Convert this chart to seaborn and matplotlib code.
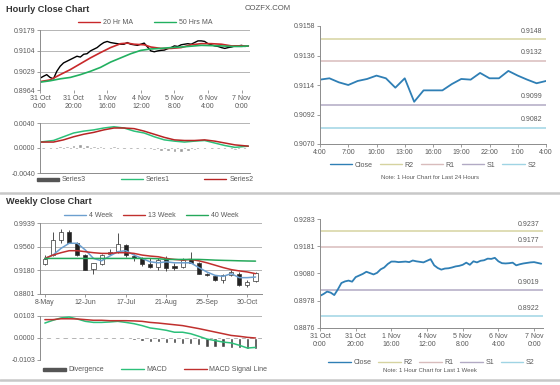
import numpy as np
import pandas as pd
import seaborn as sns
import matplotlib.pyplot as plt
from matplotlib.lines import Line2D
from matplotlib.patches import Patch

# ---------------- data ----------------
# hourly close chart (last week), index = hours since 31 Oct 0:00
hr_idx = list(range(0, 125, 2))
hr_close = [0.9006, 0.9013, 0.9019, 0.9009, 0.9004, 0.9031, 0.9049, 0.9061, 0.9067, 0.9073,
            0.9079, 0.9085, 0.9082, 0.9092, 0.9094, 0.9104, 0.9110, 0.9116, 0.9126, 0.9134,
            0.9138, 0.9134, 0.9132, 0.9130, 0.9128, 0.9128, 0.9134, 0.9128, 0.9126, 0.9124,
            0.9128, 0.9132, 0.9118, 0.9104, 0.9101, 0.9104, 0.9106, 0.9107, 0.9112, 0.9116,
            0.9122, 0.9120, 0.9126, 0.9128, 0.9130, 0.9128, 0.9134, 0.9140, 0.9140, 0.9138,
            0.9130, 0.9126, 0.9122, 0.9120, 0.9116, 0.9113, 0.9116, 0.9118, 0.9122, 0.9122,
            0.9124, 0.9120, 0.9122]
ma20_idx = [0, 6, 12, 18, 24, 30, 36, 42, 48, 52, 56, 62, 66, 72, 78, 84, 90, 96, 102, 108, 114, 120, 124]
ma20 = [0.8994, 0.9000, 0.9019, 0.9037, 0.9058, 0.9079, 0.9098, 0.9116, 0.9130, 0.9132, 0.9128, 0.9126,
        0.9118, 0.9113, 0.9113, 0.9116, 0.9126, 0.9130, 0.9130, 0.9128, 0.9122, 0.9122, 0.9122]
ma50_idx = [0, 6, 12, 18, 24, 30, 36, 42, 48, 54, 60, 66, 72, 78, 84, 90, 96, 102, 108, 114, 120, 124]
ma50 = [0.8992, 0.8997, 0.9004, 0.9009, 0.9019, 0.9031, 0.9045, 0.9064, 0.9079, 0.9094, 0.9106, 0.9111,
        0.9113, 0.9116, 0.9118, 0.9121, 0.9124, 0.9123, 0.9122, 0.9120, 0.9120, 0.9122]
hr_ticks = ["31 Oct\n0:00", "31 Oct\n20:00", "1 Nov\n16:00", "4 Nov\n12:00", "5 Nov\n8:00", "6 Nov\n4:00", "7 Nov\n0:00"]

# hourly MACD
hm_idx = [0, 8, 14, 20, 26, 32, 38, 44, 50, 56, 62, 68, 74, 80, 86, 92, 98, 104, 110, 116, 124]
series1 = [0.00095, 0.0012, 0.0018, 0.0024, 0.0027, 0.0029, 0.0032, 0.0034, 0.0032, 0.0027, 0.0024,
           0.0018, 0.0013, 0.0011, 0.00095, 0.0011, 0.0012, 0.0008, 0.0004, 0.0001, 0.0003]
series2 = [0.00095, 0.00095, 0.0013, 0.0018, 0.0022, 0.0025, 0.0029, 0.0032, 0.0032, 0.0031, 0.0027,
           0.0022, 0.0017, 0.0013, 0.0012, 0.0012, 0.0013, 0.0011, 0.0008, 0.0005, 0.0003]
s3_idx = list(range(0, 125, 4))
series3 = [0.0, 0.0001, 0.0002, 0.0003, 0.0004, 0.0005, 0.0006, 0.0005, 0.0004, 0.0003, 0.0002,
           0.0003, 0.0002, 0.0001, 0.0, -0.0001, -0.0002, -0.0003, -0.0004, -0.0005, -0.0007,
           -0.0006, -0.0005, -0.0003, -0.0002, -0.0001, 0.0, -0.0001, -0.0002, -0.0003, -0.0002, -0.0001]

# last 24 hours
d_idx = list(range(25))
d_close = [0.9118, 0.9119, 0.9116, 0.9114, 0.9117, 0.91185, 0.9121, 0.9119, 0.9112, 0.9119, 0.91015,
           0.9110, 0.9110, 0.9110, 0.91147, 0.91185, 0.9118, 0.9123, 0.9119, 0.9119, 0.91245,
           0.9121, 0.9118, 0.91153, 0.9117]
d_ticks = ["4:00", "7:00", "10:00", "13:00", "16:00", "19:00", "22:00", "1:00", "4:00"]
d_levels = [0.9148, 0.9132, 0.9099, 0.9082]

# last week, hourly
w_idx = list(range(0, 125, 2))
w_close = [0.8996, 0.9003, 0.9012, 0.9008, 0.8999, 0.9020, 0.9044, 0.9050, 0.9053, 0.9049,
           0.9066, 0.9072, 0.9078, 0.9086, 0.9081, 0.9076, 0.9082, 0.9095, 0.9102, 0.9115,
           0.9124, 0.9124, 0.9122, 0.9123, 0.9124, 0.9122, 0.9128, 0.9125, 0.9123, 0.9121,
           0.9127, 0.9133, 0.9110, 0.9100, 0.9094, 0.9098, 0.9099, 0.9102, 0.9106, 0.9108,
           0.9112, 0.9120, 0.9112, 0.9125, 0.9121, 0.9127, 0.9129, 0.9135, 0.9134, 0.9138,
           0.9125, 0.9118, 0.9117, 0.9118, 0.9120, 0.9110, 0.9114, 0.9117, 0.9119, 0.9121,
           0.9122, 0.9119, 0.9116]
w_levels = [0.9237, 0.9177, 0.9019, 0.8922]

# weekly candles
wk_open = [0.9279, 0.9425, 0.9668, 0.9788, 0.9625, 0.9425, 0.9209, 0.9279, 0.9441, 0.9479, 0.9587,
           0.9409, 0.9371, 0.9279, 0.9236, 0.9371, 0.9247, 0.9236, 0.9355, 0.9301, 0.9127, 0.9084,
           0.9030, 0.9100, 0.9127, 0.8938, 0.9008]
wk_close = [0.9355, 0.9668, 0.9788, 0.9625, 0.9425, 0.9192, 0.9290, 0.9425, 0.9479, 0.9603, 0.9425,
            0.9371, 0.9279, 0.9236, 0.9344, 0.9225, 0.9225, 0.9344, 0.9301, 0.9127, 0.9100, 0.9030,
            0.9100, 0.9154, 0.8938, 0.8992, 0.9138]
wk_high = [0.9425, 0.9788, 0.9842, 0.9820, 0.9641, 0.9436, 0.9301, 0.9441, 0.9517, 0.9777, 0.9603,
           0.9441, 0.9398, 0.9371, 0.9371, 0.9409, 0.9290, 0.9371, 0.9479, 0.9317, 0.9138, 0.9100,
           0.9127, 0.9181, 0.9154, 0.9030, 0.9154]
wk_low = [0.9263, 0.9409, 0.9614, 0.9614, 0.9409, 0.9181, 0.9127, 0.9263, 0.9425, 0.9452, 0.9398,
          0.9333, 0.9247, 0.9225, 0.9192, 0.9171, 0.9192, 0.9225, 0.9290, 0.9117, 0.9084, 0.9008,
          0.8976, 0.9084, 0.8922, 0.8911, 0.8992]
wk4 = [0.9371, 0.9425, 0.9533, 0.9614, 0.9614, 0.9506, 0.9371, 0.9333, 0.9409, 0.9479, 0.9495,
       0.9425, 0.9371, 0.9317, 0.9301, 0.9317, 0.9301, 0.9301, 0.9301, 0.9225, 0.9154, 0.9100,
       0.9084, 0.9127, 0.9063, 0.9063, 0.9073]
wk13 = [0.9371, 0.9425, 0.9463, 0.9495, 0.9495, 0.9479, 0.9463, 0.9452, 0.9452, 0.9463, 0.9463,
        0.9452, 0.9425, 0.9409, 0.9398, 0.9371, 0.9355, 0.9344, 0.9355, 0.9333, 0.9301, 0.9263,
        0.9225, 0.9192, 0.9171, 0.9154, 0.9127]
wk40 = [0.9371, 0.9371, 0.9371, 0.9371, 0.9371, 0.9371, 0.9371, 0.9371, 0.9371, 0.9371, 0.9371,
        0.9371, 0.9371, 0.9371, 0.9366, 0.9355, 0.9355, 0.9355, 0.9355, 0.9355, 0.9350, 0.9344,
        0.9340, 0.9337, 0.9333, 0.9330, 0.9328]
wk_ticks = ["8-May", "12-Jun", "17-Jul", "21-Aug", "25-Sep", "30-Oct"]

# weekly MACD
macd = [0.0070, 0.0083, 0.0094, 0.0098, 0.0089, 0.0078, 0.0073, 0.0073, 0.0075, 0.0078, 0.0073,
        0.0067, 0.0058, 0.0047, 0.0042, 0.0036, 0.0027, 0.0027, 0.0020, 0.0008, -0.0005, -0.0012,
        -0.0019, -0.0023, -0.0034, -0.0047, -0.0044]
signal = [0.0086, 0.0086, 0.0090, 0.0090, 0.0089, 0.0086, 0.0083, 0.0083, 0.0081, 0.0081, 0.0081,
          0.0080, 0.0078, 0.0073, 0.0070, 0.0066, 0.0062, 0.0058, 0.0051, 0.0044, 0.0036, 0.0028,
          0.0020, 0.0012, 0.0008, 0.0003, 0.0]
diverg = [-0.0005, -0.0003, 0.0002, 0.0004, -0.0001, -0.0004, -0.0006, -0.0006, -0.0005, -0.0004,
          -0.0006, -0.0009, -0.0014, -0.0018, -0.0020, -0.0023, -0.0025, -0.0027, -0.0030, -0.0035,
          -0.0040, -0.0042, -0.0044, -0.0046, -0.0048, -0.0050, -0.0050]

# ---------------- style ----------------
sns.set_style("white")
plt.rcParams['font.family'] = ['Liberation Sans', 'DejaVu Sans']
TXT = '#595959'
SPINE = '#8c8c8c'
GRID = '#b4b4b4'
FS = 5

fig = plt.figure(figsize=(5.6, 3.85), dpi=100)


def px_axes(x0, y0, x1, y1):
    return fig.add_axes([x0 / 560, 1 - y1 / 385, (x1 - x0) / 560, (y1 - y0) / 385])


def base(ax, grid=True):
    for s in ['top', 'right']:
        ax.spines[s].set_visible(False)
    for s in ['left', 'bottom']:
        ax.spines[s].set_color(SPINE)
        ax.spines[s].set_linewidth(0.7)
    ax.tick_params(axis='both', labelsize=FS, colors=SPINE, labelcolor=TXT, length=2, width=0.6, pad=1.5,
                   direction='out', left=True, bottom=True)
    if grid:
        ax.yaxis.grid(True, color=GRID, lw=0.7)
    ax.set_xlabel('')
    ax.set_ylabel('')


def leg(ax, handles, labels, y, cs=2.0, x=0.5):
    ax.legend(handles, labels, loc='center', bbox_to_anchor=(x, y), ncol=len(labels), frameon=False,
              fontsize=FS, handlelength=3.2, columnspacing=cs, handletextpad=0.4, labelcolor=TXT)


# titles
fig.text(6 / 560, 1 - 9 / 385, "Hourly Close Chart", fontsize=6.6, fontweight='bold', color='#333333', va='center')
fig.text(245 / 560, 1 - 9 / 385, "COZFX.COM", fontsize=5.6, color='#555555', va='center')
fig.text(6 / 560, 1 - 202 / 385, "Weekly Close Chart", fontsize=6.6, fontweight='bold', color='#333333', va='center')
fig.add_artist(Line2D([0, 1], [1 - 193 / 385] * 2, color='#c8c8c8', lw=1.8))
fig.add_artist(Line2D([0, 1], [1 - 380 / 385] * 2, color='#c8c8c8', lw=1.8))

# ---- hourly close ----
ax1 = px_axes(40, 30, 250, 90)
sns.lineplot(x=hr_idx, y=hr_close, ax=ax1, color='black', lw=1.0)
sns.lineplot(x=ma20_idx, y=ma20, ax=ax1, color='#c8282a', lw=1.2)
sns.lineplot(x=ma50_idx, y=ma50, ax=ax1, color='#22b060', lw=1.2)
ax1.set_xlim(0, 125)
ax1.set_ylim(0.8964, 0.9179)
ax1.set_yticks([0.8964, 0.9029, 0.9104, 0.9179])
ax1.set_yticklabels(["0.8964", "0.9029", "0.9104", "0.9179"])
ax1.set_xticks(list(range(0, 121, 20)))
ax1.set_xticklabels(hr_ticks, linespacing=1.3)
base(ax1)
ax1.spines['bottom'].set_visible(False)
leg(ax1, [Line2D([], [], color='#c8282a', lw=1), Line2D([], [], color='#22b060', lw=1)],
    ["20 Hr MA", "50 Hrs MA"], 1.12, cs=3)

# ---- hourly MACD ----
ax2 = px_axes(40, 123, 250, 173)
ax2.bar(s3_idx, series3, width=2.2, color='#9a9a9a', zorder=2)
sns.lineplot(x=hm_idx, y=series1, ax=ax2, color='#2cc07a', lw=1.1)
sns.lineplot(x=hm_idx, y=series2, ax=ax2, color='#b82424', lw=1.1)
ax2.set_xlim(0, 125)
ax2.set_ylim(-0.004, 0.004)
ax2.set_yticks([-0.004, 0.0, 0.004])
ax2.set_yticklabels(["-0.0040", "0.0000", "0.0040"])
ax2.set_xticks([])
base(ax2)
ax2.axhline(0, color='#c0c0c0', lw=0.6, zorder=1)
leg(ax2, [Patch(color='#555555'), Line2D([], [], color='#2cc07a', lw=1), Line2D([], [], color='#b82424', lw=1)],
    ["Series3", "Series1", "Series2"], -0.13, cs=5)
for h in ax2.get_legend().legend_handles[:1]:
    h.set_height(2.5)

# ---- last 24 hours ----
lvl_cols = ['#d6d3a0', '#d8bcbc', '#b2aac4', '#9fd4e4']
ax3 = px_axes(320, 26, 546, 144)
for v, c in zip(d_levels, lvl_cols):
    ax3.axhline(v, color=c, lw=1.1)
    ax3.text(0.985, v + 0.00035, f"{v:.4f}", transform=ax3.get_yaxis_transform(), ha='right', va='bottom',
             fontsize=FS, color=TXT)
sns.lineplot(x=d_idx, y=d_close, ax=ax3, color='#2f7fb5', lw=1.3)
ax3.set_xlim(0, 24)
ax3.set_ylim(0.9070, 0.9158)
ax3.set_yticks([0.9070, 0.9092, 0.9114, 0.9136, 0.9158])
ax3.set_yticklabels(["0.9070", "0.9092", "0.9114", "0.9136", "0.9158"])
ax3.set_xticks(list(range(0, 25, 3)))
ax3.set_xticklabels(d_ticks)
base(ax3, grid=False)
lh = [Line2D([], [], color='#2f7fb5', lw=1)] + [Line2D([], [], color=c, lw=1) for c in lvl_cols]
leg(ax3, lh, ["Close", "R2", "R1", "S1", "S2"], -0.18, cs=1.0)
fig.text(430 / 560, 1 - 178 / 385, "Note: 1 Hour Chart for Last 24 Hours", fontsize=4.3, color=TXT,
         ha='center', va='center')

# ---- weekly candles ----
ax4 = px_axes(40, 223, 262, 294)
wx = np.arange(len(wk_open))
ax4.vlines(wx, wk_low, wk_high, color='#333333', lw=0.6, zorder=3)
up = [c >= o for o, c in zip(wk_open, wk_close)]
bot = [min(o, c) for o, c in zip(wk_open, wk_close)]
hgt = [abs(c - o) for o, c in zip(wk_open, wk_close)]
ax4.bar(wx, hgt, bottom=bot, width=0.5, color=['white' if u else '#222222' for u in up],
        edgecolor='#333333', lw=0.5, zorder=4)
sns.lineplot(x=wx, y=wk4, ax=ax4, color='#6c9fcf', lw=1.1, zorder=5)
sns.lineplot(x=wx, y=wk13, ax=ax4, color='#c0302e', lw=1.1, zorder=5)
sns.lineplot(x=wx, y=wk40, ax=ax4, color='#24a85a', lw=1.1, zorder=5)
ax4.set_xlim(-0.6, 26.8)
ax4.set_ylim(0.8801, 0.9939)
ax4.set_yticks([0.8801, 0.9180, 0.9560, 0.9939])
ax4.set_yticklabels(["0.8801", "0.9180", "0.9560", "0.9939"])
ax4.set_xticks([0, 5, 10, 15, 20, 25])
ax4.set_xticklabels(wk_ticks)
base(ax4)
leg(ax4, [Line2D([], [], color='#6c9fcf', lw=1), Line2D([], [], color='#c0302e', lw=1),
          Line2D([], [], color='#24a85a', lw=1)], ["4 Week", "13 Week", "40 Week"], 1.1, cs=1.5)

# ---- weekly MACD ----
ax5 = px_axes(40, 316, 262, 360)
ax5.bar(wx, diverg, width=0.4, color='#444444', zorder=2)
sns.lineplot(x=wx, y=macd, ax=ax5, color='#2cc07a', lw=1.1)
sns.lineplot(x=wx, y=signal, ax=ax5, color='#c0302e', lw=1.1)
ax5.set_xlim(-0.6, 26.8)
ax5.set_ylim(-0.0103, 0.0103)
ax5.set_yticks([-0.0103, 0.0, 0.0103])
ax5.set_yticklabels(["-0.0103", "0.0000", "0.0103"])
ax5.set_xticks([])
base(ax5)
ax5.spines['bottom'].set_visible(False)
leg(ax5, [Patch(color='#555555'), Line2D([], [], color='#2cc07a', lw=1), Line2D([], [], color='#c0302e', lw=1)],
    ["Divergence", "MACD", "MACD Signal Line"], -0.22, cs=2.5, x=0.52)
ax5.get_legend().legend_handles[0].set_height(2.5)

# ---- last week hourly ----
lvl_cols2 = ['#d6d3a0', '#d8bcbc', '#b2aac4', '#9fd4e4']
ax6 = px_axes(320, 219, 543, 328)
for v, c in zip(w_levels, lvl_cols2):
    ax6.axhline(v, color=c, lw=1.1)
    ax6.text(0.985, v + 0.0014, f"{v:.4f}", transform=ax6.get_yaxis_transform(), ha='right', va='bottom',
             fontsize=FS, color=TXT)
sns.lineplot(x=w_idx, y=w_close, ax=ax6, color='#2f7fb5', lw=1.3)
ax6.set_xlim(0, 125)
ax6.set_ylim(0.8876, 0.9283)
ax6.set_yticks([0.8876, 0.8978, 0.9080, 0.9181, 0.9283])
ax6.set_yticklabels(["0.8876", "0.8978", "0.9080", "0.9181", "0.9283"])
ax6.set_xticks(list(range(0, 121, 20)))
ax6.set_xticklabels(hr_ticks, linespacing=1.3)
base(ax6, grid=False)
lh2 = [Line2D([], [], color='#2f7fb5', lw=1)] + [Line2D([], [], color=c, lw=1) for c in lvl_cols2]
leg(ax6, lh2, ["Close", "R2", "R1", "S1", "S2"], -0.32, cs=1.0)
fig.text(430 / 560, 1 - 370 / 385, "Note: 1 Hour Chart for Last 1 Week", fontsize=4.3, color=TXT,
         ha='center', va='center')

fig.savefig("out.png", dpi=100, facecolor='white')
